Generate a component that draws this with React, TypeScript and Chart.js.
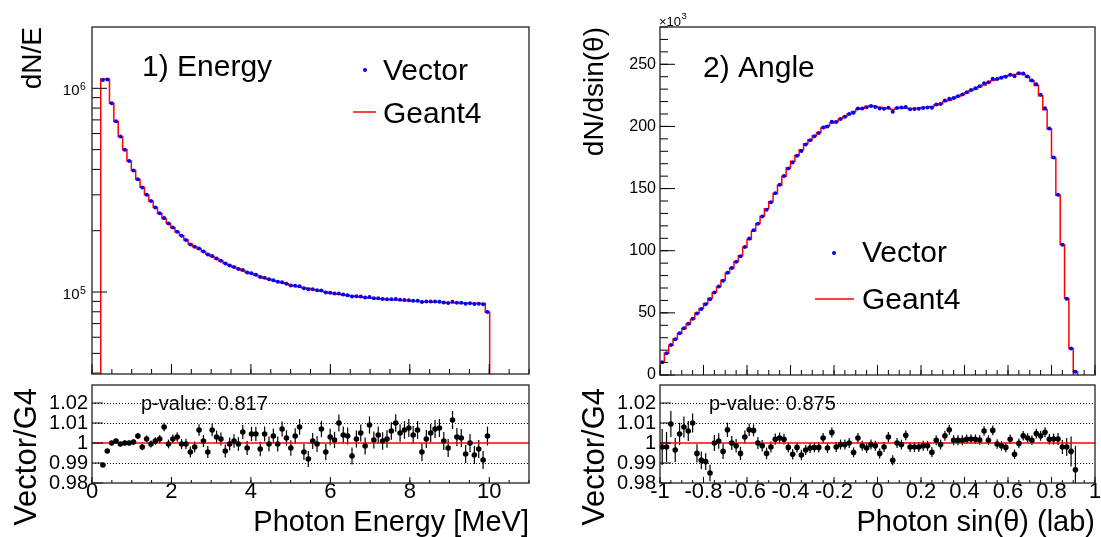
import React, { useEffect, useRef } from 'react';
import { Chart, registerables } from 'chart.js';

Chart.register(...registerables);

const FONT = '"Liberation Sans", Arial, Helvetica, sans-serif';
const RED = '#ff0000';
const BLUE = '#0000ff';

// ---------------- Panel 1: photon energy ----------------
const E_BIN_LOW = 0.22; // lower edge of the first filled bin [MeV]
const E_BIN_WIDTH = 0.11; // [MeV]
const E_G4 = [
  1.11e6, 1.11e6, 8.45e5, 6.88e5, 5.8e5, 5.0e5, 4.4e5, 3.95e5, 3.57e5, 3.27e5,
  3.0e5, 2.8e5, 2.6e5, 2.43e5, 2.29e5, 2.17e5, 2.07e5, 1.97e5, 1.89e5, 1.8e5,
  1.72e5, 1.67e5, 1.625e5, 1.58e5, 1.535e5, 1.495e5, 1.455e5, 1.42e5, 1.385e5, 1.35e5,
  1.325e5, 1.3e5, 1.275e5, 1.25e5, 1.23e5, 1.21e5, 1.19e5, 1.17e5, 1.155e5, 1.14e5,
  1.125e5, 1.11e5, 1.097e5, 1.08e5, 1.07e5, 1.06e5, 1.05e5, 1.04e5, 1.03e5, 1.02e5,
  1.01e5, 1.0e5, 9.9e4, 9.82e4, 9.75e4, 9.68e4, 9.62e4, 9.56e4, 9.51e4, 9.46e4,
  9.41e4, 9.36e4, 9.32e4, 9.28e4, 9.24e4, 9.2e4, 9.17e4, 9.14e4, 9.11e4, 9.08e4,
  9.05e4, 9.02e4, 9.0e4, 8.98e4, 8.96e4, 8.94e4, 8.92e4, 8.9e4, 8.88e4, 8.86e4,
  8.85e4, 8.84e4, 8.83e4, 8.82e4, 8.81e4, 8.8e4, 8.79e4, 8.78e4, 7.95e4,
];
const E_RATIO = [
  0.989, 0.996, 1.0, 1.001, 0.9995, 1.0, 1.0, 1.0005, 1.0035, 0.998,
  1.002, 0.9995, 1.001, 1.002, 1.008, 0.9995, 1.002, 1.003, 0.9995, 0.9995,
  0.9955, 0.998, 1.0065, 1.001, 0.9955, 1.0065, 1.003, 1.002, 0.996, 0.9995,
  1.001, 0.9995, 1.0055, 0.9975, 1.0045, 1.0045, 0.997, 1.0045, 0.9995, 1.0035,
  0.9995, 1.007, 1.0025, 0.9975, 1.0035, 1.008, 0.9955, 0.992, 1.001, 0.9995,
  1.007, 0.9955, 1.003, 1.0015, 1.01, 1.004, 1.0035, 0.9935, 1.002, 1.005,
  0.9985, 1.009, 1.0015, 1.004, 1.001, 1.002, 1.006, 1.01, 1.005, 1.0065,
  1.0075, 1.004, 1.0065, 0.9955, 1.002, 1.005, 1.007, 1.0075, 1.001, 0.9975,
  1.0115, 1.003, 1.0025, 0.9945, 1.0, 0.994, 0.997, 0.9915, 1.0035,
];
const E_RATIO_ERR = [
  0.0008, 0.0008, 0.0009, 0.001, 0.0011, 0.0012, 0.0013, 0.0014, 0.0015, 0.0016,
  0.0017, 0.0018, 0.0019, 0.002, 0.0021, 0.0022, 0.0023, 0.0024, 0.0025, 0.0026,
  0.0027, 0.0028, 0.0029, 0.003, 0.003, 0.0031, 0.0032, 0.0032, 0.0033, 0.0033,
  0.0034, 0.0034, 0.0035, 0.0035, 0.0036, 0.0036, 0.0036, 0.0037, 0.0037, 0.0037,
  0.0038, 0.0038, 0.0038, 0.0039, 0.0039, 0.0039, 0.004, 0.004, 0.004, 0.004,
  0.0041, 0.0041, 0.0041, 0.0041, 0.0042, 0.0042, 0.0042, 0.0042, 0.0042, 0.0043,
  0.0043, 0.0043, 0.0043, 0.0043, 0.0044, 0.0044, 0.0044, 0.0044, 0.0044, 0.0044,
  0.0045, 0.0045, 0.0045, 0.0045, 0.0045, 0.0045, 0.0045, 0.0045, 0.0045, 0.0045,
  0.0045, 0.0045, 0.0045, 0.0045, 0.0045, 0.0045, 0.0045, 0.0045, 0.0047,
];
const E_X_TICKS = [0, 2, 4, 6, 8, 10];
const E_Y_DECADES = [5, 6];
const E_Y_MINOR = [4e4, 5e4, 6e4, 7e4, 8e4, 9e4, 2e5, 3e5, 4e5, 5e5, 6e5, 7e5, 8e5, 9e5];

// ---------------- Panel 2: photon angle ----------------
const A_BIN_LOW = -1;
const A_BIN_WIDTH = 0.02;
const A_G4_K = [
  10.2, 17.6, 24, 28.9, 33.4, 37.4, 40.9, 44.9, 49.7, 53.5,
  57.5, 61.8, 66.3, 71.1, 76.2, 81.8, 86.1, 91.2, 96, 102.7,
  109.1, 115.8, 121.7, 127.8, 133.7, 139.3, 146, 152.7, 159.9, 166.6,
  171.9, 176.7, 181.3, 186.1, 189.3, 192.5, 195.2, 198.7, 200.5, 202.7,
  204, 206.1, 208, 209.9, 212, 213.9, 214.7, 216, 216.6, 216,
  215.5, 214.7, 214.4, 213.6, 214.9, 215.5, 214.7, 214.2, 214.4, 214.7,
  215.2, 215.5, 216, 217.4, 218.2, 220, 220.9, 222.5, 224, 225.4,
  227, 228.9, 230.2, 232, 233.4, 235.3, 236.9, 238.2, 239.6, 240.6,
  241.2, 241.7, 242.8, 241.7, 239.6, 236.6, 232.9, 224.6, 213.4, 197.9,
  174.6, 144.7, 105.1, 61.5, 21.4, 2.7,
];
const A_RATIO = [
  0.998, 0.998, 1.0095, 0.9965, 1.0045, 1.008, 1.006, 1.01, 0.9948, 0.9914,
  0.9907, 0.985, 1.0, 1.001, 0.9958, 1.0066, 1.0, 0.9986, 0.9948, 1.003,
  1.0066, 1.0063, 1.0, 0.9986, 0.9948, 0.998, 1.0019, 1.0025, 1.0019, 0.9978,
  0.9944, 0.9978, 0.994, 0.9965, 0.9975, 0.9978, 0.9978, 1.0025, 0.9975, 1.0053,
  0.998, 0.9992, 0.9992, 1.0, 0.9953, 1.0025, 0.9986, 0.9975, 0.9992, 0.9986,
  0.9948, 0.998, 1.003, 0.9914, 1.0, 0.9992, 1.0039, 0.998, 0.998, 0.998,
  0.9986, 0.9986, 0.9954, 1.0014, 0.9992, 1.0036, 1.0066, 1.0014, 1.0014, 1.0014,
  1.0019, 1.002, 1.0019, 1.0015, 1.006, 1.0014, 1.0063, 0.9995, 0.9986, 0.9978,
  1.0019, 0.9944, 0.9998, 1.0036, 1.0025, 1.0014, 1.0047, 1.0036, 1.0054, 1.0019,
  1.002, 1.002, 0.998, 0.998, 0.9958, 0.9866,
];
const A_RATIO_ERR = [
  0.009, 0.0075, 0.0065, 0.006, 0.0056, 0.0053, 0.005, 0.0048, 0.0046, 0.0044,
  0.0042, 0.0041, 0.004, 0.0039, 0.0038, 0.0036, 0.0035, 0.0034, 0.0033, 0.0032,
  0.0031, 0.003, 0.003, 0.0029, 0.0029, 0.0028, 0.0028, 0.0027, 0.0027, 0.0026,
  0.0026, 0.0026, 0.0026, 0.0025, 0.0025, 0.0025, 0.0025, 0.0025, 0.0025, 0.0025,
  0.0025, 0.0025, 0.0025, 0.0025, 0.0025, 0.0025, 0.0025, 0.0025, 0.0025, 0.0025,
  0.0025, 0.0025, 0.0025, 0.0025, 0.0025, 0.0025, 0.0025, 0.0025, 0.0025, 0.0025,
  0.0025, 0.0025, 0.0025, 0.0025, 0.0025, 0.0025, 0.0025, 0.0025, 0.0025, 0.0025,
  0.0024, 0.0024, 0.0024, 0.0024, 0.0024, 0.0024, 0.0024, 0.0024, 0.0024, 0.0024,
  0.0024, 0.0024, 0.0024, 0.0024, 0.0024, 0.0024, 0.0024, 0.0025, 0.0025, 0.0026,
  0.0027, 0.003, 0.0035, 0.0045, 0.0075, 0.012,
];
const A_X_TICKS = [-1, -0.8, -0.6, -0.4, -0.2, 0, 0.2, 0.4, 0.6, 0.8, 1];
const A_Y_TICKS = [0, 50, 100, 150, 200, 250];

// ---------------- ratio panels ----------------
const R_Y_TICKS = [0.98, 0.99, 1, 1.01, 1.02];
const R_Y_GRID = [0.99, 1.01, 1.02];
const P_VALUE_E = 'p-value: 0.817';
const P_VALUE_A = 'p-value: 0.875';

// ---------------- helpers ----------------
function steps(a: number, b: number, s: number) {
  const out: number[] = [];
  const n = Math.round((b - a) / s);
  for (let i = 0; i <= n; i++) out.push(+(a + i * s).toFixed(6));
  return out;
}
function centers(lo: number, w: number, n: number) {
  return Array.from({ length: n }, (_, i) => +(lo + (i + 0.5) * w).toFixed(6));
}
function stepLine(lo: number, w: number, vals: number[], floor: number) {
  const pts = [{ x: lo, y: floor }];
  vals.forEach((v, i) => {
    pts.push({ x: +(lo + i * w).toFixed(6), y: v }, { x: +(lo + (i + 1) * w).toFixed(6), y: v });
  });
  pts.push({ x: +(lo + vals.length * w).toFixed(6), y: floor });
  return pts;
}

type Txt = { t: string; x: number; y: number; size: number; align?: CanvasTextAlign; rot?: boolean; base?: CanvasTextBaseline };
type PanelCfg = {
  xMajor: number[]; xMinor: number[]; xMajLen: number; xMinLen: number;
  yMajor: number[]; yMinor: number[]; yMajLen: number; yMinLen: number;
  dotted?: number[];
  err?: { xs: number[]; ys: number[]; e: number[] };
  texts: Txt[];
  legend?: { dot: [number, number]; line: [number, number, number] };
  logDecades?: number[];
  expLabel?: { x: number; y: number };
};

function drawText(ctx: CanvasRenderingContext2D, s: Txt) {
  ctx.save();
  ctx.font = `${s.size}px ${FONT}`;
  ctx.fillStyle = '#000';
  ctx.textAlign = s.align || 'left';
  ctx.textBaseline = s.base || 'alphabetic';
  if (s.rot) {
    ctx.translate(s.x, s.y);
    ctx.rotate(-Math.PI / 2);
    ctx.fillText(s.t, 0, 0);
  } else ctx.fillText(s.t, s.x, s.y);
  ctx.restore();
}

function rootPlugin(cfg: PanelCfg) {
  return {
    id: 'rootStyle',
    beforeDatasetsDraw(chart: any) {
      const { ctx, chartArea: ca, scales } = chart;
      const xs = scales.x, ys = scales.y;
      ctx.save();
      if (cfg.dotted) {
        ctx.strokeStyle = '#000';
        ctx.lineWidth = 1;
        ctx.setLineDash([1, 2]);
        for (const v of cfg.dotted) {
          const y = Math.round(ys.getPixelForValue(v)) + 0.5;
          ctx.beginPath(); ctx.moveTo(ca.left, y); ctx.lineTo(ca.right, y); ctx.stroke();
        }
        ctx.setLineDash([]);
      }
      if (cfg.err) {
        const er = cfg.err;
        ctx.strokeStyle = '#000';
        ctx.lineWidth = 1.2;
        er.xs.forEach((xv, i) => {
          const yv = er.ys[i], e = er.e[i];
          const px = xs.getPixelForValue(xv);
          const y1 = Math.max(ca.top, ys.getPixelForValue(yv + e));
          const y2 = Math.min(ca.bottom, ys.getPixelForValue(yv - e));
          if (y1 < y2) { ctx.beginPath(); ctx.moveTo(px, y1); ctx.lineTo(px, y2); ctx.stroke(); }
        });
      }
      ctx.restore();
    },
    afterDraw(chart: any) {
      const { ctx, chartArea: ca, scales } = chart;
      const xs = scales.x, ys = scales.y;
      ctx.save();
      ctx.strokeStyle = '#000';
      ctx.lineWidth = 1;
      const line = (x1: number, y1: number, x2: number, y2: number) => {
        ctx.beginPath(); ctx.moveTo(x1, y1); ctx.lineTo(x2, y2); ctx.stroke();
      };
      const inX = (p: number) => p >= ca.left - 0.5 && p <= ca.right + 0.5;
      const inY = (p: number) => p >= ca.top - 0.5 && p <= ca.bottom + 0.5;
      cfg.xMinor.forEach((v) => { const p = xs.getPixelForValue(v); if (inX(p)) line(p, ca.bottom, p, ca.bottom - cfg.xMinLen); });
      cfg.xMajor.forEach((v) => { const p = xs.getPixelForValue(v); if (inX(p)) line(p, ca.bottom, p, ca.bottom - cfg.xMajLen); });
      cfg.yMinor.forEach((v) => { const p = ys.getPixelForValue(v); if (inY(p)) line(ca.left, p, ca.left + cfg.yMinLen, p); });
      cfg.yMajor.forEach((v) => { const p = ys.getPixelForValue(v); if (inY(p)) line(ca.left, p, ca.left + cfg.yMajLen, p); });
      ctx.strokeStyle = '#222';
      ctx.lineWidth = 1.3;
      ctx.strokeRect(ca.left, ca.top, ca.right - ca.left, ca.bottom - ca.top);
      if (cfg.logDecades) {
        ctx.fillStyle = '#000';
        cfg.logDecades.forEach((d) => {
          const p = ys.getPixelForValue(Math.pow(10, d));
          ctx.font = `15px ${FONT}`;
          ctx.textAlign = 'right';
          ctx.textBaseline = 'middle';
          ctx.fillText('10', ca.left - 12.5, p + 3);
          ctx.font = `10.5px ${FONT}`;
          ctx.textAlign = 'left';
          ctx.textBaseline = 'alphabetic';
          ctx.fillText(String(d), ca.left - 12, p + 2);
        });
      }
      if (cfg.expLabel) {
        ctx.fillStyle = '#000';
        ctx.font = `13px ${FONT}`;
        ctx.textAlign = 'left';
        ctx.textBaseline = 'alphabetic';
        ctx.fillText('\u00d710', cfg.expLabel.x, cfg.expLabel.y);
        const w = ctx.measureText('\u00d710').width;
        ctx.font = `9.5px ${FONT}`;
        ctx.fillText('3', cfg.expLabel.x + w + 0.5, cfg.expLabel.y - 7);
      }
      if (cfg.legend) {
        const [dx, dy] = cfg.legend.dot;
        ctx.fillStyle = BLUE;
        ctx.beginPath(); ctx.arc(dx, dy, 2, 0, Math.PI * 2); ctx.fill();
        const [lx1, lx2, ly] = cfg.legend.line;
        ctx.strokeStyle = RED;
        ctx.lineWidth = 1.5;
        line(lx1, ly, lx2, ly);
      }
      ctx.restore();
      cfg.texts.forEach((t) => drawText(ctx, t));
    },
  };
}

const tickFont = (size: number) => ({ family: FONT, size, lineHeight: 1 });

function baseOptions(padding: { left: number; top: number; right: number; bottom: number }, scales: any) {
  return {
    responsive: false,
    animation: false,
    devicePixelRatio: 1,
    events: [],
    layout: { padding, autoPadding: false },
    plugins: { legend: { display: false }, tooltip: { enabled: false }, title: { display: false } },
    scales,
  };
}

const Y_AXIS_W = 70;

function energyTop() {
  const xc = centers(E_BIN_LOW, E_BIN_WIDTH, E_G4.length);
  const vec = E_G4.map((v, i) => v * E_RATIO[i]);
  return {
    type: 'line',
    data: {
      datasets: [
        { label: 'Vector', data: xc.map((x, i) => ({ x, y: vec[i] })), showLine: false, pointRadius: 2, pointBorderWidth: 0, pointBackgroundColor: BLUE, borderColor: BLUE },
        { label: 'Geant4', data: stepLine(E_BIN_LOW, E_BIN_WIDTH, E_G4, 1), borderColor: RED, borderWidth: 1.5, pointRadius: 0, tension: 0, fill: false },
      ],
    },
    options: baseOptions({ left: 92, top: 27, right: 572, bottom: 163 }, {
      x: { type: 'linear', min: 0, max: 11, display: false },
      y: { type: 'logarithmic', min: 3.96e4, max: 2.0e6, display: false },
    }),
    plugins: [rootPlugin({
      xMajor: E_X_TICKS, xMinor: steps(0, 11, 0.5), xMajLen: 10, xMinLen: 5,
      yMajor: [1e5, 1e6], yMinor: E_Y_MINOR, yMajLen: 15, yMinLen: 8,
      logDecades: E_Y_DECADES,
      legend: { dot: [365, 70], line: [353, 376, 112] },
      texts: [
        { t: 'dN/E', x: 41, y: 27, size: 28, align: 'right', rot: true },
        { t: '1) Energy', x: 142, y: 76, size: 30 },
        { t: 'Vector', x: 383, y: 80, size: 30 },
        { t: 'Geant4', x: 383, y: 123, size: 30 },
      ],
    })],
  };
}

function angleTop() {
  const xc = centers(A_BIN_LOW, A_BIN_WIDTH, A_G4_K.length);
  const vec = A_G4_K.map((v, i) => v * A_RATIO[i]);
  return {
    type: 'line',
    data: {
      datasets: [
        { label: 'Vector', data: xc.map((x, i) => ({ x, y: vec[i] })), showLine: false, pointRadius: 2, pointBorderWidth: 0, pointBackgroundColor: BLUE, borderColor: BLUE },
        { label: 'Geant4', data: stepLine(A_BIN_LOW, A_BIN_WIDTH, A_G4_K, 0), borderColor: RED, borderWidth: 1.5, pointRadius: 0, tension: 0, fill: false },
      ],
    },
    options: baseOptions({ left: 660 - Y_AXIS_W, top: 27, right: 6, bottom: 162 }, {
      x: { type: 'linear', min: -1, max: 1, display: false },
      y: {
        type: 'linear', min: 0, max: 280,
        afterBuildTicks: (s: any) => { s.ticks = A_Y_TICKS.map((v) => ({ value: v })); },
        afterFit: (s: any) => { s.width = Y_AXIS_W; },
        grid: { display: false, drawTicks: false },
        border: { display: false },
        ticks: { font: tickFont(16), color: '#000', padding: 4, autoSkip: false, callback: (v: any) => String(v) },
      },
    }),
    plugins: [rootPlugin({
      xMajor: A_X_TICKS, xMinor: steps(-1, 1, 0.05), xMajLen: 10, xMinLen: 5,
      yMajor: A_Y_TICKS, yMinor: steps(0, 280, 10), yMajLen: 15, yMinLen: 8,
      expLabel: { x: 659, y: 26 },
      legend: { dot: [834, 253], line: [815, 854, 299] },
      texts: [
        { t: 'dN/dsin(\u03b8)', x: 603, y: 27, size: 28, align: 'right', rot: true },
        { t: '2) Angle', x: 703, y: 77, size: 30 },
        { t: 'Vector', x: 862, y: 262, size: 30 },
        { t: 'Geant4', x: 862, y: 309, size: 30 },
      ],
    })],
  };
}

function ratioPanel(
  lo: number, w: number, ratio: number[], err: number[], xmin: number, xmax: number,
  xTicks: number[], xMinorStep: number, left: number, right: number, pText: string, title: string,
) {
  const xc = centers(lo, w, ratio.length);
  return {
    type: 'line',
    data: {
      datasets: [
        { label: 'ratio', data: xc.map((x, i) => ({ x, y: ratio[i] })), showLine: false, pointRadius: 2.8, pointBorderWidth: 0, pointBackgroundColor: '#000', borderColor: '#000' },
        { label: 'unity', data: [{ x: xmin, y: 1 }, { x: xmax, y: 1 }], borderColor: RED, borderWidth: 1.5, pointRadius: 0, fill: false },
      ],
    },
    options: baseOptions({ left: left - Y_AXIS_W, top: 385, right: 1101 - right, bottom: 0 }, {
      x: {
        type: 'linear', min: xmin, max: xmax,
        afterBuildTicks: (s: any) => { s.ticks = xTicks.map((v) => ({ value: v })); },
        afterFit: (s: any) => { s.height = 54; },
        grid: { display: false, drawTicks: false },
        border: { display: false },
        ticks: { font: tickFont(22), color: '#000', padding: -2, autoSkip: false, maxRotation: 0, minRotation: 0, callback: (v: any) => String(v) },
      },
      y: {
        type: 'linear', min: 0.98, max: 1.029,
        afterBuildTicks: (s: any) => { s.ticks = R_Y_TICKS.map((v) => ({ value: v })); },
        afterFit: (s: any) => { s.width = Y_AXIS_W; },
        grid: { display: false, drawTicks: false },
        border: { display: false },
        ticks: { font: tickFont(20), color: '#000', padding: 4, autoSkip: false, callback: (v: any) => String(v) },
      },
    }),
    plugins: [rootPlugin({
      xMajor: xTicks, xMinor: steps(xmin, xmax, xMinorStep), xMajLen: 6, xMinLen: 3,
      yMajor: R_Y_TICKS, yMinor: [], yMajLen: 11, yMinLen: 0,
      dotted: R_Y_GRID,
      err: { xs: xc, ys: ratio, e: err },
      texts: [
        { t: 'Vector/G4', x: left - 56, y: 388, size: 31, align: 'right', rot: true },
        { t: pText, x: left + 49, y: 410, size: 20 },
        { t: title, x: right, y: 531, size: 29, align: 'right' },
      ],
    })],
  };
}

function energyRatio() {
  return ratioPanel(E_BIN_LOW, E_BIN_WIDTH, E_RATIO, E_RATIO_ERR, 0, 11, E_X_TICKS, 0.5, 92, 529, P_VALUE_E, 'Photon Energy [MeV]');
}
function angleRatio() {
  return ratioPanel(A_BIN_LOW, A_BIN_WIDTH, A_RATIO, A_RATIO_ERR, -1, 1, A_X_TICKS, 0.05, 660, 1095, P_VALUE_A, 'Photon sin(\u03b8) (lab)');
}

function ChartCanvas({ make }: { make: () => any }) {
  const ref = useRef<HTMLCanvasElement>(null);
  useEffect(() => {
    const chart = new Chart(ref.current as HTMLCanvasElement, make() as any);
    return () => chart.destroy();
  }, []);
  return (
    <canvas
      ref={ref}
      width={1101}
      height={537}
      style={{ position: 'absolute', left: 0, top: 0, width: 1101, height: 537 }}
    />
  );
}

export default function App() {
  return (
    <div style={{ position: 'fixed', left: 0, top: 0, width: 1101, height: 537, background: '#fff', overflow: 'hidden' }}>
      <ChartCanvas make={energyTop} />
      <ChartCanvas make={angleTop} />
      <ChartCanvas make={energyRatio} />
      <ChartCanvas make={angleRatio} />
    </div>
  );
}
